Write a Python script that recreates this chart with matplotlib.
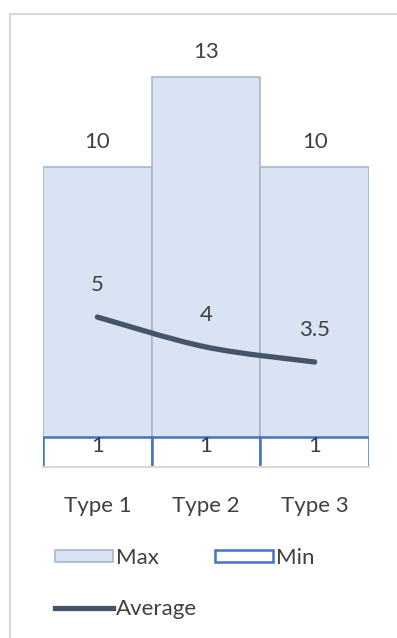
import numpy as np
import matplotlib
matplotlib.use("Agg")
import matplotlib.pyplot as plt
from matplotlib.path import Path
from matplotlib.patches import PathPatch, Rectangle, Patch
from matplotlib.lines import Line2D

categories = ["Type 1", "Type 2", "Type 3"]
max_vals = [10, 13, 10]
min_vals = [1, 1, 1]
avg_vals = [5, 4, 3.5]

FILL = "#dae3f3"
FILL_EDGE = "#a9b6cb"
MIN_EDGE = "#4472c4"
LINE = "#44546a"
TEXT = "#404040"
FS = 16

plt.rcParams["font.family"] = ["Lato", "DejaVu Sans"]

W, H = 397, 638
fig = plt.figure(figsize=(W / 100, H / 100), dpi=100)

# outer chart frame
fig.patches.append(Rectangle((10 / W, -0.1), 1.2, (638 - 14) / H + 0.1,
                             transform=fig.transFigure, fill=False,
                             edgecolor="#d9d9d9", lw=1.5))

ax = fig.add_axes([43 / W, (H - 467) / H, 326 / W, 437 / H])
x = np.arange(len(categories))

ax.bar(x, max_vals, width=1.0, color=FILL, edgecolor=FILL_EDGE, lw=1.2, zorder=1)
ax.bar(x, min_vals, width=1.0, color="white", edgecolor=MIN_EDGE, lw=1.8, zorder=2)

# smoothed average line (Catmull-Rom -> cubic bezier)
pts = np.column_stack([x, avg_vals]).astype(float)
ext = np.vstack([pts[0], pts, pts[-1]])
verts = [tuple(pts[0])]
codes = [Path.MOVETO]
for i in range(1, len(ext) - 2):
    p0, p1, p2, p3 = ext[i - 1], ext[i], ext[i + 1], ext[i + 2]
    c1 = p1 + (p2 - p0) / 6
    c2 = p2 - (p3 - p1) / 6
    verts += [tuple(c1), tuple(c2), tuple(p2)]
    codes += [Path.CURVE4] * 3
ax.add_patch(PathPatch(Path(verts, codes), fill=False, edgecolor=LINE,
                       lw=3.8, capstyle="round", zorder=3))

for xi, v in zip(x, max_vals):
    ax.text(xi, v + 0.5, f"{v}", ha="center", va="bottom", fontsize=FS, color=TEXT)
for xi, v in zip(x, min_vals):
    ax.text(xi, v - 0.3, f"{v}", ha="center", va="center", fontsize=FS, color=TEXT, zorder=4)
for xi, v in zip(x, avg_vals):
    ax.text(xi, v + 0.72, f"{v:g}", ha="center", va="bottom", fontsize=FS, color=TEXT)

ax.set_xlim(-0.5, 2.5)
ax.set_ylim(0, 14.57)
ax.set_xticks(x)
ax.set_xticklabels(categories, fontsize=FS, color=TEXT)
ax.tick_params(axis="x", length=0, pad=21)
ax.set_yticks([])
for s in ax.spines.values():
    s.set_visible(False)
# category axis line sits over the bar bottoms
ax.axhline(0, color="#d9d9d9", lw=1.6, zorder=3, clip_on=False)

handles = [Patch(facecolor=FILL, edgecolor=FILL_EDGE, lw=1.2, label="Max"),
           Line2D([], [], color=LINE, lw=3.8, label="Average"),
           Patch(facecolor="white", edgecolor=MIN_EDGE, lw=1.8, label="Min")]
fig.legend(handles=handles, ncol=2, loc="upper left",
           bbox_to_anchor=(55 / W, 1 - 548 / H), frameon=False, fontsize=FS,
           borderpad=0, borderaxespad=0,
           handlelength=2.6, handleheight=0.5, handletextpad=0.15,
           columnspacing=0.8, labelspacing=1.4, labelcolor=TEXT)

fig.savefig("out.png", dpi=100)
